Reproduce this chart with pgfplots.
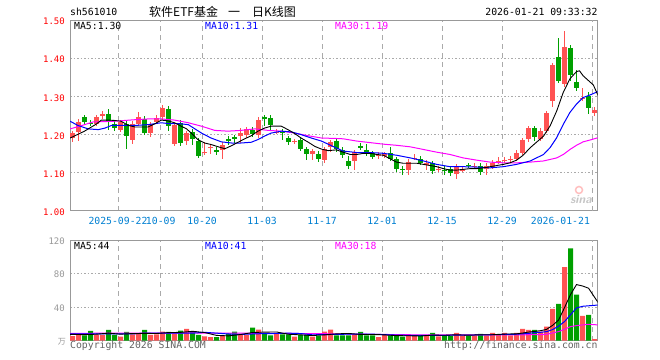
\documentclass[border=0pt]{standalone}
\usepackage{pgfplots}
\pgfplotsset{compat=1.18}
\usepackage{pgfplotstable}
\usepackage{fontspec}
\setmainfont{DejaVu Sans}
\setmonofont{DejaVu Sans Mono}
\newfontfamily\cjk{Noto Sans CJK SC}
\definecolor{cred}{RGB}{255,82,82}
\definecolor{cgreen}{RGB}{0,160,0}
\definecolor{cframe}{RGB}{153,153,153}
\definecolor{cgrid}{RGB}{170,170,170}
\definecolor{cdate}{RGB}{0,128,210}
\definecolor{cma10}{RGB}{0,0,255}
\definecolor{cma30}{RGB}{255,0,255}
\definecolor{ctxt}{RGB}{100,100,100}
\newcommand\mono{\ttfamily\fontsize{9.8bp}{11bp}\selectfont}
\newcommand\monos{\ttfamily\fontsize{9bp}{11bp}\selectfont}

\pgfplotstableread{
i o h l c v
0 1.190 1.209 1.180 1.204 5.6
1 1.206 1.236 1.183 1.234 8
4 1.229 1.248 1.226 1.246 7.2
5 1.248 1.259 1.246 1.255 7
8 1.213 1.237 1.211 1.232 4.8
10 1.185 1.231 1.176 1.229 7.6
11 1.229 1.259 1.222 1.245 8
13 1.204 1.231 1.194 1.227 6.8
14 1.233 1.246 1.231 1.244 7.6
15 1.245 1.276 1.244 1.270 10.8
17 1.176 1.224 1.176 1.224 8.8
19 1.183 1.204 1.172 1.204 14
22 1.152 1.180 1.148 1.155 5.2
23 1.167 1.169 1.148 1.168 4.4
25 1.159 1.174 1.136 1.174 6
28 1.196 1.217 1.178 1.204 6.8
29 1.198 1.217 1.196 1.214 6.8
31 1.198 1.241 1.196 1.239 13.2
34 1.207 1.213 1.205 1.208 8
37 1.182 1.189 1.176 1.183 4.8
40 1.148 1.157 1.134 1.157 4.8
42 1.133 1.162 1.130 1.162 10.8
43 1.167 1.182 1.155 1.180 13.2
47 1.131 1.161 1.107 1.154 7.6
51 1.144 1.153 1.137 1.147 4.4
52 1.147 1.153 1.139 1.148 7.2
56 1.107 1.133 1.094 1.129 5.6
57 1.139 1.148 1.133 1.140 6.4
59 1.122 1.128 1.107 1.126 6.4
61 1.110 1.119 1.102 1.111 5.2
64 1.098 1.118 1.084 1.116 9.2
65 1.108 1.119 1.102 1.109 6.4
67 1.117 1.121 1.109 1.118 6.4
69 1.111 1.122 1.093 1.118 6.4
70 1.116 1.128 1.113 1.126 9.2
71 1.130 1.142 1.125 1.131 6.8
72 1.132 1.142 1.125 1.134 9.2
73 1.136 1.144 1.131 1.137 6.4
74 1.137 1.160 1.135 1.151 9.2
75 1.153 1.189 1.148 1.185 14
76 1.188 1.218 1.188 1.217 12.8
78 1.189 1.217 1.188 1.210 10.8
79 1.210 1.256 1.210 1.256 16.8
80 1.289 1.385 1.271 1.382 38
82 1.332 1.470 1.330 1.429 87.6
85 1.294 1.321 1.290 1.296 29.6
87 1.256 1.269 1.253 1.265 2
}\up

\pgfplotstableread{
i o h l c v
2 1.246 1.251 1.224 1.233 6.4
3 1.231 1.234 1.227 1.230 11.6
6 1.255 1.267 1.211 1.233 12.8
7 1.229 1.233 1.209 1.217 7
9 1.229 1.231 1.163 1.196 10.4
12 1.241 1.244 1.203 1.205 12.8
16 1.268 1.268 1.209 1.222 10.4
18 1.231 1.233 1.176 1.178 12
20 1.206 1.215 1.174 1.189 10.8
21 1.184 1.187 1.144 1.145 6.8
24 1.159 1.168 1.150 1.154 4.4
26 1.189 1.191 1.174 1.185 8.8
27 1.193 1.196 1.178 1.191 10.8
30 1.213 1.216 1.199 1.201 15.6
32 1.245 1.248 1.222 1.242 8.8
33 1.244 1.244 1.209 1.224 6.4
35 1.208 1.213 1.187 1.205 7.6
36 1.191 1.191 1.176 1.180 7.6
38 1.185 1.187 1.156 1.163 6.8
39 1.161 1.161 1.133 1.148 6.8
41 1.150 1.152 1.133 1.135 5.6
44 1.182 1.183 1.154 1.161 6.4
45 1.160 1.166 1.142 1.146 6.4
46 1.130 1.144 1.111 1.118 6.4
48 1.169 1.177 1.161 1.168 10.4
49 1.159 1.175 1.146 1.151 6.4
50 1.151 1.157 1.135 1.142 6.4
53 1.151 1.167 1.133 1.137 6.4
54 1.135 1.139 1.104 1.109 5.6
55 1.111 1.118 1.093 1.110 4.8
58 1.137 1.144 1.125 1.126 5.6
60 1.125 1.131 1.102 1.104 9.2
62 1.108 1.119 1.095 1.107 6
63 1.111 1.119 1.091 1.100 5.6
66 1.120 1.122 1.113 1.119 5.6
68 1.118 1.122 1.096 1.102 8
77 1.217 1.217 1.183 1.195 12.8
81 1.404 1.454 1.334 1.341 44
83 1.427 1.427 1.341 1.356 110
84 1.337 1.368 1.315 1.321 54.8
86 1.302 1.311 1.254 1.269 30.8
}\down

\pgfplotsset{
  base/.style={
    scale only axis, width=527.7bp,
    xmin=-0.42, xmax=87.53,
    axis line style={draw=cframe, line width=1bp},
    major tick length=0pt, tick style={draw=none},
    xmajorgrids, ymajorgrids,
    major x grid style={draw=cgrid, line width=1bp, dash pattern=on 5bp off 4bp},
    major y grid style={draw=cgrid, line width=1bp, dash pattern=on 1.5bp off 2bp},
    xtick={7.58,14.7,21.6,31.6,41.6,51.6,61.6,71.6},
    extra x ticks={86.6},
    yticklabel style={anchor=east, inner sep=0pt, xshift=-5bp, yshift=-1.5bp},
    clip=true,
  },
  wick/.style={draw=none, mark=none, forget plot,
    error bars/.cd, y dir=both, y explicit, error mark=none,
    error bar style={line width=1bp, draw=#1, solid}},
  body/.style={draw=none, mark=none, forget plot,
    error bars/.cd, y dir=both, y explicit, error mark=|,
    error mark options={rotate=90, line width=1bp, mark size=2.5bp, draw=#1, fill=#1},
    error bar style={line width=5bp, draw=#1, solid}},
}

\begin{document}
\begin{tikzpicture}
\useasboundingbox (0,0) rectangle (660bp,360bp);
\fill[white] (0,0) rectangle (660bp,360bp);

\begin{axis}[base,
  at={(70bp,149bp)}, anchor=south west, height=191bp,
  ymin=1.0, ymax=1.5,
  xticklabels={2025-09-22,10-09,10-20,11-03,11-17,12-01,12-15,12-29},
  xticklabel style={font=\mono, text=cdate, anchor=base, inner sep=0pt, yshift=-14bp},
  extra x tick labels={2026-01-21},
  extra x tick style={grid=major, xticklabel style={anchor=base east, xshift=-2bp}},
  ytick={1.0,1.1,1.2,1.3,1.4,1.5},
  yticklabels={1.00,1.10,1.20,1.30,1.40,1.50},
  yticklabel style={font=\monos, text=red},
]
\addplot[wick=cred] table[x=i, y expr={(\thisrow{h}+\thisrow{l})/2}, y error expr={(\thisrow{h}-\thisrow{l})/2}] {\up};
\addplot[wick=cgreen] table[x=i, y expr={(\thisrow{h}+\thisrow{l})/2}, y error expr={(\thisrow{h}-\thisrow{l})/2}] {\down};
\addplot[body=cred] table[x=i, y expr={(\thisrow{o}+\thisrow{c})/2}, y error expr={abs(\thisrow{c}-\thisrow{o})/2}] {\up};
\addplot[body=cgreen] table[x=i, y expr={(\thisrow{o}+\thisrow{c})/2}, y error expr={abs(\thisrow{c}-\thisrow{o})/2}] {\down};
% MA30
\addplot[cma30, line width=1bp] coordinates {(-0.4,1.215) (1.2,1.222) (3.4,1.233) (7,1.235) (10.4,1.239) (12.6,1.241) (14.8,1.241) (17,1.238) (19.3,1.231) (21.5,1.222) (23.7,1.211) (25.9,1.209) (28.1,1.211) (30.4,1.215) (32.6,1.211) (34.8,1.209) (37,1.204) (39.3,1.197) (41.5,1.191) (43.7,1.190) (45.1,1.189) (47.4,1.183) (49.6,1.179) (51.8,1.175) (54,1.172) (56.3,1.168) (58.5,1.161) (60.7,1.154) (62.9,1.148) (65.1,1.139) (67.4,1.133) (69.6,1.128) (71.8,1.126) (74,1.126) (76.3,1.128) (78.5,1.131) (80.7,1.139) (81.8,1.148) (82.9,1.161) (84,1.172) (85.1,1.181) (86.3,1.186) (87.6,1.192)};
% MA10
\addplot[cma10, line width=1bp] coordinates {(-0.4,1.235) (0.9,1.224) (2.6,1.215) (4.3,1.213) (5.4,1.217) (6.5,1.224) (8.1,1.224) (10.4,1.224) (12.6,1.226) (14.8,1.231) (15.9,1.229) (17.6,1.229) (19.3,1.226) (20.4,1.215) (21.5,1.204) (23.1,1.191) (24.8,1.181) (26.5,1.178) (28.1,1.178) (29.8,1.180) (30.9,1.187) (32,1.196) (33.1,1.204) (34.8,1.209) (36.5,1.207) (38.1,1.200) (39.8,1.191) (41.5,1.183) (43,1.172) (45.1,1.157) (47.4,1.153) (49.6,1.153) (51.8,1.151) (54,1.146) (56.3,1.139) (58.5,1.131) (60.7,1.122) (62.9,1.116) (65.1,1.116) (67.4,1.115) (69.6,1.113) (71.8,1.116) (74,1.122) (76.3,1.131) (78.5,1.148) (79.6,1.166) (80.7,1.192) (81.8,1.227) (82.9,1.258) (84,1.280) (85.1,1.297) (86.3,1.304) (87.6,1.313)};
% MA5
\addplot[black, line width=0.9bp] coordinates {(-0.4,1.191) (2,1.209) (4,1.228) (4.8,1.238) (5.9,1.238) (7,1.237) (8.1,1.235) (9.3,1.224) (10.4,1.220) (11.5,1.220) (12.6,1.220) (13.7,1.228) (14.8,1.238) (15.9,1.236) (17,1.231) (18.1,1.222) (19,1.215) (19.8,1.204) (20.9,1.187) (22,1.178) (23.1,1.174) (24.3,1.168) (25.4,1.163) (26.5,1.171) (27.6,1.180) (28.7,1.189) (29.8,1.197) (30.9,1.209) (32,1.217) (33.1,1.222) (34.8,1.222) (35.9,1.213) (37,1.203) (38.1,1.191) (39.3,1.180) (40.4,1.169) (41.5,1.162) (42.6,1.158) (44,1.160) (45.1,1.154) (46.3,1.148) (47.4,1.148) (48.5,1.151) (49.6,1.151) (50.7,1.148) (51.8,1.146) (52.9,1.137) (54,1.128) (55.1,1.125) (56.3,1.125) (57.4,1.125) (58.5,1.122) (59.6,1.119) (60.7,1.116) (61.8,1.111) (62.9,1.107) (64,1.107) (65.1,1.109) (66.3,1.111) (67.4,1.111) (68.5,1.113) (69.6,1.116) (70.7,1.119) (71.8,1.122) (72.9,1.126) (74,1.133) (75.1,1.146) (76.3,1.166) (77.4,1.181) (78.5,1.196) (79.6,1.223) (80.7,1.262) (81.8,1.311) (82.9,1.346) (84,1.365) (84.5,1.367) (85.1,1.354) (86.3,1.337) (86.8,1.330) (87.6,1.302)};
\end{axis}

\begin{axis}[base,
  at={(70bp,19.3bp)}, anchor=south west, height=100.7bp,
  ymin=0, ymax=120,
  xticklabels={}, extra x tick labels={},
  extra x tick style={grid=major},
  ytick={40,80,120}, yticklabels={40,80,120},
  yticklabel style={font=\monos, text=cframe, yshift=0.5bp},
]
\addplot[ybar, bar width=5bp, bar shift=0pt, fill=cred, draw=none] table[x=i, y=v] {\up};
\addplot[ybar, bar width=5bp, bar shift=0pt, fill=cgreen, draw=none] table[x=i, y=v] {\down};
\addplot[cma30, line width=1bp] coordinates {(-0.4,8.8) (20,9.2) (40,8.5) (50,7.6) (60,6.8) (70,6.8) (78,7.2) (79,7.6) (80,9.2) (81,10.8) (82,13.6) (83,16.8) (84,18) (85,18.8) (86,19.6) (87.6,18.8)};
\addplot[cma10, line width=1bp] coordinates {(-0.4,8) (10,8) (12,9) (20,9) (22,10) (24,9) (26,8) (28,7.5) (30,8) (32,8.5) (34,8.6) (36,9) (38,8.5) (40,7) (42,7.3) (44,7.5) (46,7.8) (50,7.8) (52,7.2) (54,6.7) (56,6.4) (58,6.3) (60,6.3) (62,6.4) (64,6.6) (66,6.6) (68,7) (70,7.1) (72,7.5) (74,7.7) (76,8.7) (77,9.6) (78,10) (79,10.8) (80,13.2) (81,17.3) (82,22.8) (83,31) (84,39) (85,41) (86,41.6) (87.6,42.5)};
\addplot[black, line width=0.9bp] coordinates {(-0.4,7.6) (2,7.2) (4,7.76) (6,9.0) (8,7.76) (10,8.52) (12,8.72) (14,8.56) (16,9.68) (18,9.92) (20,11.2) (22,9.76) (24,6.32) (26,5.76) (28,7.36) (30,9.76) (32,10.24) (34,10.4) (36,7.68) (38,6.96) (40,6.16) (42,6.96) (44,8.16) (46,8.64) (48,7.44) (50,7.44) (52,6.96) (54,6) (56,5.92) (58,5.6) (60,6.64) (62,6.48) (64,7.04) (66,6.56) (68,7.12) (70,7.12) (72,7.92) (74,8.16) (75,9.12) (76,10.32) (77,11.04) (78,11.92) (79,13.44) (80,18.24) (81,24.48) (82,39.44) (83,55) (84,66.88) (85,65.2) (86,62.56) (87.6,45.44)};
\end{axis}

% texts
\node[anchor=base west, inner sep=0pt, font=\mono] at (70bp,344bp) {sh561010};
\node[anchor=base west, inner sep=0pt, font=\cjk\fontsize{12bp}{14bp}\selectfont] at (149bp,343.3bp) {软件ETF基金};
\node[anchor=base west, inner sep=0pt, font=\cjk\fontsize{12bp}{14bp}\selectfont] at (228bp,343.3bp) {一};
\node[anchor=base west, inner sep=0pt, font=\cjk\fontsize{12bp}{14bp}\selectfont] at (252bp,343.3bp) {日K线图};
\node[anchor=base east, inner sep=0pt, font=\mono] at (597.7bp,344bp) {2026-01-21 09:33:32};
\node[anchor=base west, inner sep=0pt, font=\mono] at (74bp,330.7bp) {MA5:1.30};
\node[anchor=base west, inner sep=0pt, font=\mono, text=cma10] at (205bp,330.7bp) {MA10:1.31};
\node[anchor=base west, inner sep=0pt, font=\mono, text=cma30] at (335bp,330.7bp) {MA30:1.19};
\node[anchor=base west, inner sep=0pt, font=\mono] at (74bp,110.7bp) {MA5:44};
\node[anchor=base west, inner sep=0pt, font=\mono, text=cma10] at (205bp,110.7bp) {MA10:41};
\node[anchor=base west, inner sep=0pt, font=\mono, text=cma30] at (335bp,110.7bp) {MA30:18};
\node[anchor=base east, inner sep=0pt, font=\cjk\fontsize{8bp}{9bp}\selectfont, text=cframe] at (66bp,16bp) {万};
\node[anchor=base west, inner sep=0pt, font=\mono, text=ctxt] at (70bp,11.3bp) {Copyright 2026 SINA.COM};
\node[anchor=base east, inner sep=0pt, font=\mono, text=ctxt] at (597.7bp,11.3bp) {http://finance.sina.com.cn};
\node[anchor=center, inner sep=0pt, font=\sffamily\bfseries\itshape\fontsize{12bp}{13bp}\selectfont, text=gray!45] at (581bp,160bp) {sina};
\draw[red!25, line width=1.5bp] (579bp,170bp) circle (3.5bp);
\end{tikzpicture}
\end{document}
